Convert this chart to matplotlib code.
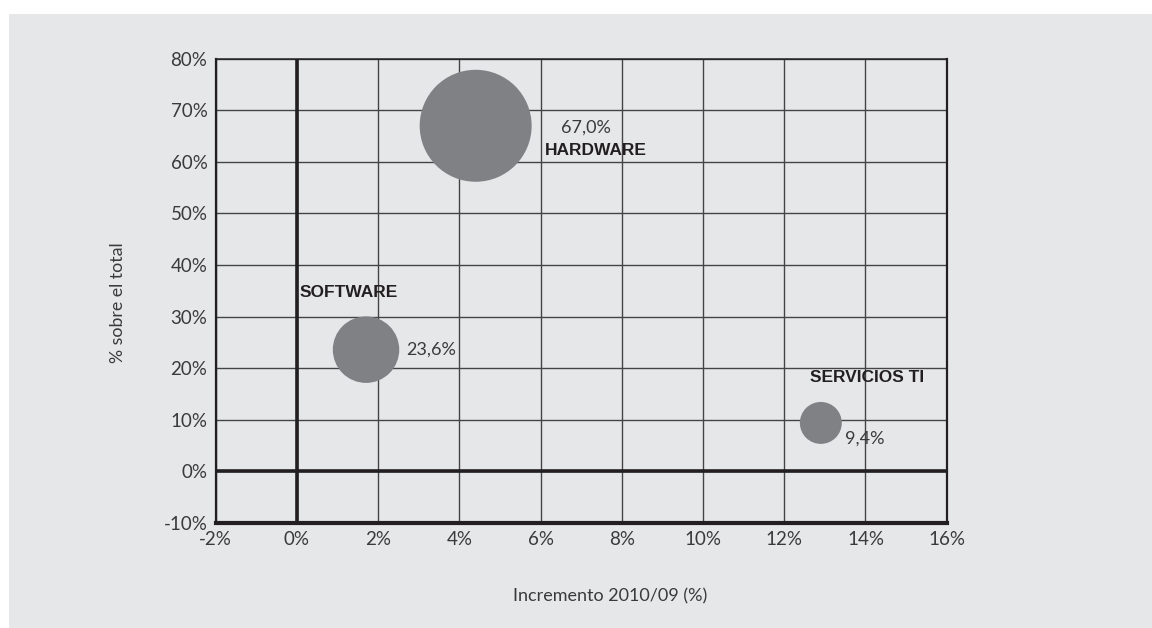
import matplotlib.pyplot as plt
from matplotlib.patches import Rectangle
from matplotlib.ticker import FuncFormatter

''' Data read from the chart '''
names = ['HARDWARE', 'SOFTWARE', 'SERVICIOS TI']
incremento = [4.4, 1.7, 12.9]        # x: Incremento 2010/09 (%)
cuota = [67.0, 23.6, 9.4]            # y: % sobre el total (also bubble size)
cuota_txt = ['67,0%', '23,6%', '9,4%']

# label offsets in pixels (value label, name label)
val_off = [(110, -2), (40, 0), (24, -16)]
val_ha = ['center', 'left', 'left']
name_off = [(69, -25), (-66, 57), (-11, 45)]

bg = '#e6e7e9'
ink = '#231f20'
grey_txt = '#3a3a3a'
bubble = '#808184'
light_font = 'Lato'
bold_font = ['Liberation Sans Narrow', 'Liberation Sans']

fig = plt.figure(figsize=(11.52, 6.28), dpi=100)
fig.patch.set_facecolor('white')
fig.patches.append(Rectangle((9 / 1152, 0), 1, 1 - 14 / 628, transform=fig.transFigure,
                             facecolor=bg, edgecolor='none', zorder=-10))

ax = fig.add_axes([0.1873, 0.1672, 0.6345, 0.7393])
ax.set_facecolor(bg)
ax.set_xlim(-2, 16)
ax.set_ylim(-10, 80)
ax.set_xticks(range(-2, 17, 2))
ax.set_yticks(range(-10, 81, 10))
ax.xaxis.set_major_formatter(FuncFormatter(lambda v, p: '%d%%' % v))
ax.yaxis.set_major_formatter(FuncFormatter(lambda v, p: '%d%%' % v))
ax.tick_params(length=0, labelsize=13.5, colors=grey_txt)
ax.tick_params(axis='y', pad=6)
ax.tick_params(axis='x', pad=6)
for lab in ax.get_xticklabels() + ax.get_yticklabels():
    lab.set_fontfamily(light_font)

ax.grid(True, color='#444444', lw=1.0)
ax.set_axisbelow(True)
ax.axvline(0, color=ink, lw=2.6, zorder=1)
ax.axhline(0, color=ink, lw=2.6, zorder=1)
for side, w in [('bottom', 3.0), ('left', 1.6), ('top', 1.1), ('right', 1.6)]:
    ax.spines[side].set_linewidth(w)
    ax.spines[side].set_color(ink)

ax.scatter(incremento, cuota, s=[c * 97 for c in cuota], color=bubble,
           edgecolors='none', zorder=3)

for i in range(len(names)):
    ax.annotate(cuota_txt[i], (incremento[i], cuota[i]), xytext=val_off[i],
                textcoords='offset pixels', ha=val_ha[i], va='center',
                fontsize=13, color=grey_txt, family=light_font)
    ax.annotate(names[i], (incremento[i], cuota[i]), xytext=name_off[i],
                textcoords='offset pixels', ha='left', va='center',
                fontsize=12.5, color=ink, family=bold_font, weight='bold')

fig.text(0.1024, 0.5175, '% sobre el total', rotation=90, ha='center', va='center',
         fontsize=12.8, color=grey_txt, family=light_font)
fig.text(0.5295, 0.051, 'Incremento 2010/09 (%)', ha='center', va='center',
         fontsize=13, color=grey_txt, family=light_font)

fig.savefig('out.png', dpi=100, facecolor=fig.get_facecolor())
